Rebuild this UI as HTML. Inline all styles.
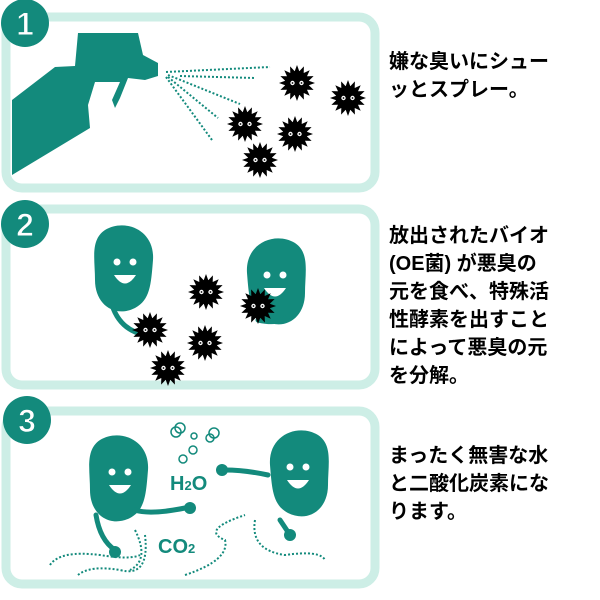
<!DOCTYPE html>
<html><head><meta charset="utf-8"><style>
html,body{margin:0;padding:0;background:#fff;width:600px;height:600px;overflow:hidden}
.t{position:absolute;left:389px;font-family:"Liberation Sans","Noto Sans CJK JP",sans-serif;font-weight:bold;font-size:20px;line-height:28px;color:#000;width:210px;letter-spacing:0px}
</style></head><body>
<svg width="600" height="600" style="position:absolute;left:0;top:0">
<defs>
<g id="germ">
<polygon fill="#000" points="18,0 11.8,2.3 16.6,6.9 10,6.7 12.7,12.7 6.7,10 6.9,16.6 2.3,11.8 0,18 -2.3,11.8 -6.9,16.6 -6.7,10 -12.7,12.7 -10,6.7 -16.6,6.9 -11.8,2.3 -18,0 -11.8,-2.3 -16.6,-6.9 -10,-6.7 -12.7,-12.7 -6.7,-10 -6.9,-16.6 -2.3,-11.8 0,-18 2.3,-11.8 6.9,-16.6 6.7,-10 12.7,-12.7 10,-6.7 16.6,-6.9 11.8,-2.3"/>
<circle r="12" fill="#000"/>
<circle cx="-4.5" cy="0" r="2.2" fill="#fff"/><circle cx="4.5" cy="0" r="2.2" fill="#fff"/>
<circle cx="-4.5" cy="0" r="0.9" fill="#000"/><circle cx="4.5" cy="0" r="0.9" fill="#000"/>
</g>
<g id="bean">
<path d="M-20,-40 C0,-52 30,-40 28,-10 C26,15 25,30 10,38 C-10,48 -30,35 -30,10 C-30,-10 -35,-30 -20,-40Z" fill="#138a7c"/>
<circle cx="-8" cy="-8" r="3.5" fill="#fff"/><circle cx="8" cy="-8" r="3.5" fill="#fff"/>
<path d="M-11,5 Q0,22 11,5 Z" fill="#fff"/>
</g>
</defs>
<g fill="none" stroke="#cdeee6" stroke-width="9">
<rect x="6" y="17" width="369" height="171" rx="16"/>
<rect x="6" y="209" width="369" height="176" rx="16"/>
<rect x="6" y="411" width="369" height="173" rx="16"/>
</g>
<g fill="#138a7c">
<circle cx="25" cy="23" r="24"/><circle cx="25" cy="224" r="24"/><circle cx="27" cy="420" r="24"/>
</g>
<g font-family="Liberation Sans,sans-serif" font-weight="bold" font-size="32" fill="#fff" stroke="#138a7c" stroke-width="1" text-anchor="middle">
<text x="25" y="35">1</text><text x="25" y="236">2</text><text x="27" y="432">3</text>
</g>
<!-- spray bottle -->
<path d="M12,100 L55,67 L75,66 L78,33 L138,33 L143,55 L158,63 L158,76 L145,80 L128,78 L120,98 L115,108 L112,100 L120,82 L95,82 L88,105 L90,128 L12,175Z" fill="#138a7c"/>
<g stroke="#138a7c" stroke-width="2" stroke-dasharray="2 2" fill="none">
<line x1="166" y1="72" x2="270" y2="67"/><line x1="180" y1="76" x2="255" y2="78"/>
<line x1="168" y1="75" x2="240" y2="104"/><line x1="168" y1="77" x2="218" y2="118"/><line x1="166" y1="77" x2="212" y2="140"/>
</g>
<use href="#germ" x="297" y="83"/><use href="#germ" x="348" y="98"/><use href="#germ" x="245" y="124"/><use href="#germ" x="295" y="134"/><use href="#germ" x="260" y="160"/>
<!-- panel 2 -->
<use href="#bean" x="125" y="270"/>
<g transform="translate(550,0) scale(-1,1)"><use href="#bean" x="275" y="283"/></g>
<g stroke="#138a7c" stroke-width="5" fill="none" stroke-linecap="round">
<path d="M112,305 Q120,330 145,335"/><path d="M290,315 Q280,325 258,320"/>
</g>
<use href="#germ" x="206" y="292"/><use href="#germ" x="258" y="306"/><use href="#germ" x="150" y="330"/><use href="#germ" x="205" y="343"/><use href="#germ" x="168" y="368"/>
<!-- panel 3 -->
<use href="#bean" x="120" y="480"/>
<g transform="translate(596,0) scale(-1,1)"><use href="#bean" x="298" y="475"/></g>
<g stroke="#138a7c" stroke-width="5" fill="none" stroke-linecap="round">
<path d="M135,510 Q150,515 185,508"/><path d="M96,515 Q100,540 115,550"/><path d="M268,475 Q245,470 225,470"/><path d="M280,520 L290,535"/>
</g>
<g fill="#138a7c"><circle cx="190" cy="508" r="6"/><circle cx="115" cy="552" r="6"/><circle cx="222" cy="470" r="6"/><circle cx="290" cy="535" r="6"/></g>
<g stroke="#138a7c" stroke-width="2" stroke-dasharray="2 2" fill="none">
<path d="M50,565 Q60,550 100,555 Q130,560 140,555"/><path d="M78,575 Q90,565 120,570 Q150,578 145,535"/>
<path d="M185,575 Q230,560 225,540 Q200,530 245,515"/><path d="M255,520 Q250,550 285,555 Q320,550 325,560"/>
<path d="M135,530 Q150,560 130,570"/>
</g>
<g fill="none" stroke="#138a7c" stroke-width="1.5">
<circle cx="176" cy="432" r="5"/><circle cx="180" cy="428" r="5"/><circle cx="194" cy="436" r="3"/><circle cx="214" cy="433" r="5"/><circle cx="210" cy="438" r="4"/><circle cx="193" cy="450" r="4"/><circle cx="183" cy="459" r="4"/>
</g>
<g font-family="Liberation Sans,sans-serif" font-weight="bold" fill="#138a7c">
<text x="170" y="490" font-size="20">H<tspan font-size="13">2</tspan>O</text>
<text x="158" y="553" font-size="20">CO<tspan font-size="13">2</tspan></text>
</g>
</svg>
<div class="t" style="top:48px">嫌な臭いにシュー<br>ッとスプレー。</div>
<div class="t" style="top:222px">放出されたバイオ<br>(OE菌) が悪臭の<br>元を食べ、特殊活<br>性酵素を出すこと<br>によって悪臭の元<br>を分解。</div>
<div class="t" style="top:442px">まったく無害な水<br>と二酸化炭素にな<br>ります。</div>
</body></html>
